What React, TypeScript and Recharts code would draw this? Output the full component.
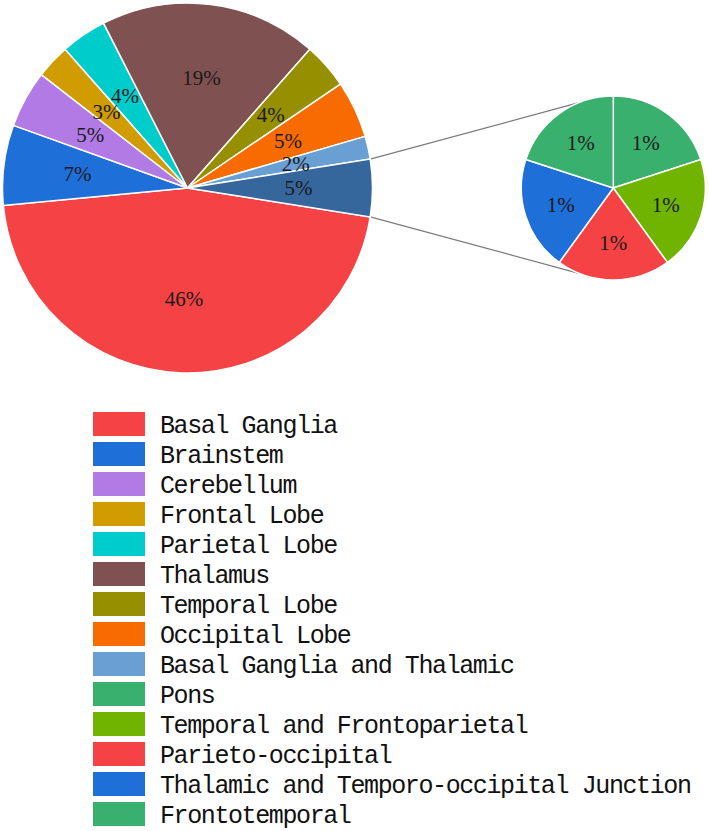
import React from 'react';
import { PieChart, Pie, Cell, Legend, Customized } from 'recharts';

const mainNames = [
  'Basal Ganglia',
  'Brainstem',
  'Cerebellum',
  'Frontal Lobe',
  'Parietal Lobe',
  'Thalamus',
  'Temporal Lobe',
  'Occipital Lobe',
  'Basal Ganglia and Thalamic',
];
const mainValues = [46, 7, 5, 3, 4, 19, 4, 5, 2];
const mainColors = ['#f54345', '#1f6fd9', '#b27ae4', '#d09c00', '#00cccc', '#7f5150', '#968f00', '#f76b00', '#6a9fd4'];

const subNames = ['Pons', 'Temporal and Frontoparietal', 'Parieto-occipital', 'Thalamic and Temporo-occipital Junction', 'Frontotemporal'];
const subValues = [1, 1, 1, 1, 1];
const subColors = ['#39b06e', '#70b400', '#f54345', '#1f6fd9', '#39b06e'];

const otherName = 'Other';
const otherColor = '#35669c';

const W = 709;
const H = 831;
const MAIN_CX = 187.5;
const MAIN_CY = 188;
const MAIN_R = 185;
const SUB_CX = 613.3;
const SUB_CY = 188;
const SUB_R = 92;
const SUB_LINK_ANGLE = 112;

const otherValue = subValues.reduce((a, b) => a + b, 0);
const total = mainValues.reduce((a, b) => a + b, 0) + otherValue;
const mainData = [
  ...mainNames.map((n, i) => ({ name: n, value: mainValues[i], color: mainColors[i] })),
  { name: otherName, value: otherValue, color: otherColor },
];
const subData = subNames.map((n, i) => ({ name: n, value: subValues[i], color: subColors[i] }));
const otherHalf = (otherValue / total) * 180;
const mainStart = -otherHalf;

const RAD = Math.PI / 180;

const renderLabel = (props: any) => {
  const { cx, cy, midAngle, outerRadius, value } = props;
  const r = outerRadius * 0.6;
  const x = cx + r * Math.cos(-midAngle * RAD);
  const y = cy + r * Math.sin(-midAngle * RAD);
  return (
    <text
      x={x}
      y={y}
      textAnchor="middle"
      dominantBaseline="central"
      fontFamily="'Liberation Serif', serif"
      fontSize={21}
      fill="#1a1a1a"
    >
      {Math.round((value / total) * 100) + '%'}
    </text>
  );
};

const Connectors = () => {
  const p1 = {
    x: MAIN_CX + MAIN_R * Math.cos(otherHalf * RAD),
    y: MAIN_CY - MAIN_R * Math.sin(otherHalf * RAD),
  };
  const p2 = {
    x: MAIN_CX + MAIN_R * Math.cos(-otherHalf * RAD),
    y: MAIN_CY - MAIN_R * Math.sin(-otherHalf * RAD),
  };
  const q1 = {
    x: SUB_CX + SUB_R * Math.cos(SUB_LINK_ANGLE * RAD),
    y: SUB_CY - SUB_R * Math.sin(SUB_LINK_ANGLE * RAD),
  };
  const q2 = {
    x: SUB_CX + SUB_R * Math.cos(-SUB_LINK_ANGLE * RAD),
    y: SUB_CY - SUB_R * Math.sin(-SUB_LINK_ANGLE * RAD),
  };
  return (
    <g>
      <line x1={p1.x} y1={p1.y} x2={q1.x} y2={q1.y} stroke="#7a7a7a" strokeWidth={1.2} />
      <line x1={p2.x} y1={p2.y} x2={q2.x} y2={q2.y} stroke="#7a7a7a" strokeWidth={1.2} />
    </g>
  );
};

const legendItems = [
  ...mainNames.map((n, i) => ({ name: n, color: mainColors[i] })),
  ...subNames.map((n, i) => ({ name: n, color: subColors[i] })),
];

const LegendBox = () => (
  <div style={{ display: 'flex', flexDirection: 'column' }}>
    {legendItems.map((it) => (
      <div key={it.name + it.color} style={{ display: 'flex', alignItems: 'center', height: 30 }}>
        <div style={{ width: 52, height: 24, background: it.color, marginRight: 15, flex: '0 0 auto' }} />
        <span
          style={{
            fontFamily: "'Liberation Mono', monospace",
            fontSize: 25,
            letterSpacing: '-1.4px',
            color: '#111',
            whiteSpace: 'nowrap',
            lineHeight: '30px',
            position: 'relative',
            top: 3,
          }}
        >
          {it.name}
        </span>
      </div>
    ))}
  </div>
);

export default function App() {
  return (
    <div style={{ position: 'absolute', left: 0, top: 0, width: W, height: H, background: '#fff' }}>
      <PieChart width={W} height={H} margin={{ top: 0, right: 0, bottom: 0, left: 0 }}>
        <Pie
          data={mainData}
          dataKey="value"
          nameKey="name"
          cx={MAIN_CX}
          cy={MAIN_CY}
          outerRadius={MAIN_R}
          startAngle={mainStart}
          endAngle={mainStart - 360}
          stroke="#ffffff"
          strokeWidth={1.5}
          label={renderLabel}
          labelLine={false}
          isAnimationActive={false}
        >
          {mainData.map((d) => (
            <Cell key={d.name} fill={d.color} />
          ))}
        </Pie>
        <Pie
          data={subData}
          dataKey="value"
          nameKey="name"
          cx={SUB_CX}
          cy={SUB_CY}
          outerRadius={SUB_R}
          startAngle={90}
          endAngle={-270}
          stroke="#ffffff"
          strokeWidth={1.5}
          label={renderLabel}
          labelLine={false}
          isAnimationActive={false}
        >
          {subData.map((d, i) => (
            <Cell key={d.name + i} fill={d.color} />
          ))}
        </Pie>
        <Customized component={Connectors} />
        <Legend
          content={() => <LegendBox />}
          wrapperStyle={{ position: 'absolute', left: 93, top: 409, width: 616 }}
        />
      </PieChart>
    </div>
  );
}
